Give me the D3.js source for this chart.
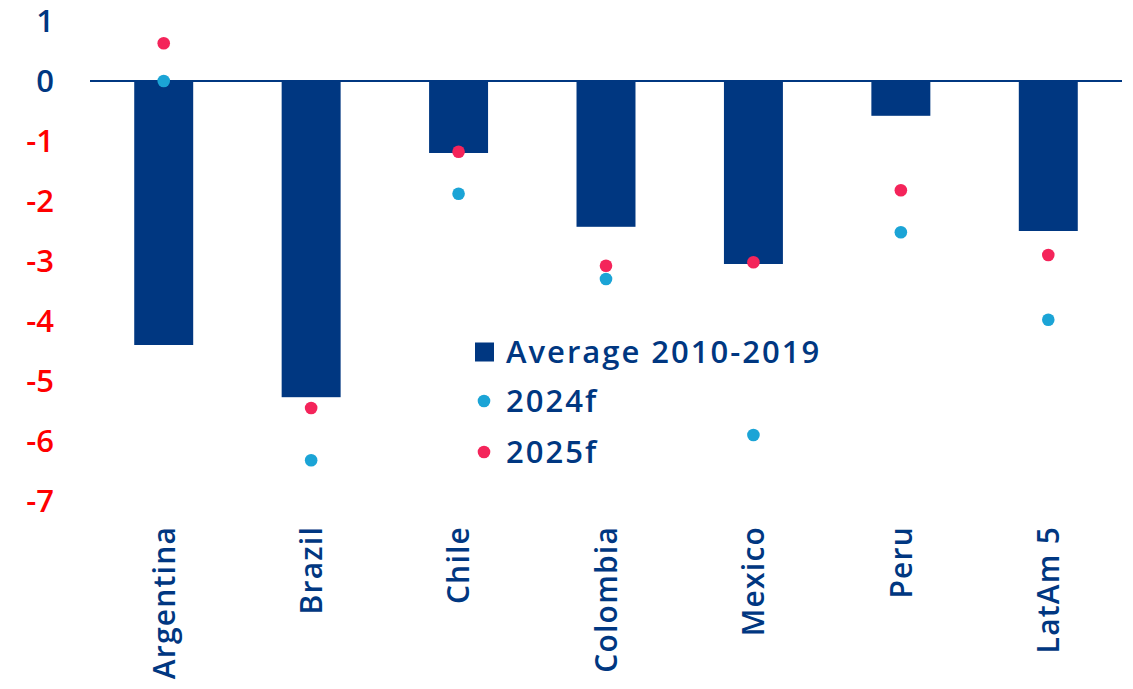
<!DOCTYPE html>
<html>
<head>
<meta charset="utf-8">
<script src="https://cdn.jsdelivr.net/npm/d3@7"></script>
<style>
  html, body { margin: 0; padding: 0; background: #fff; }
  svg text { font-family: "Open Sans", Lato, sans-serif; font-weight: 600; }
  .wide { letter-spacing: 2px; }
  .axis-label { letter-spacing: 1.2px; }
</style>
</head>
<body>
<svg id="chart" width="1133" height="689"></svg>
<script>
// Fiscal balance, % of GDP
const countries = ["Argentina", "Brazil", "Chile", "Colombia", "Mexico", "Peru", "LatAm 5"];
const avg2010_2019 = [-4.4, -5.27, -1.2, -2.43, -3.05, -0.58, -2.5];
const f2024 = [0.0, -6.32, -1.88, -3.3, -5.9, -2.52, -3.98];
const f2025 = [0.63, -5.45, -1.18, -3.08, -3.02, -1.82, -2.9];
const yTicks = [1, 0, -1, -2, -3, -4, -5, -6, -7];
const seriesNames = ["Average 2010-2019", "2024f", "2025f"];

const navy = "#003781", cyan = "#1ba4d6", pink = "#f4245a", red = "#ff0000";

const svg = d3.select("#chart");

const x = d3.scaleBand().domain(countries).range([90, 1122]).paddingInner(0.6).paddingOuter(0.3);
const y = d3.scaleLinear().domain([-7, 1]).range([501, 21]);

// y tick labels (no axis line)
svg.append("g").selectAll("text").data(yTicks).join("text")
  .attr("x", 54)
  .attr("y", d => y(d))
  .attr("dy", "0.36em")
  .attr("text-anchor", "end")
  .attr("font-size", 31)
  .attr("fill", d => d < 0 ? red : navy)
  .text(d => d);

// bars
svg.append("g").selectAll("rect").data(countries).join("rect")
  .attr("x", d => x(d))
  .attr("width", x.bandwidth())
  .attr("y", y(0))
  .attr("height", (d, i) => y(avg2010_2019[i]) - y(0))
  .attr("fill", navy);

// zero line
svg.append("line")
  .attr("x1", 90).attr("x2", 1122)
  .attr("y1", y(0)).attr("y2", y(0))
  .attr("stroke", navy).attr("stroke-width", 2);

// dots
const cx = d => x(d) + x.bandwidth() / 2;
svg.append("g").selectAll("circle").data(countries).join("circle")
  .attr("cx", cx).attr("cy", (d, i) => y(f2024[i])).attr("r", 6.3).attr("fill", cyan);
svg.append("g").selectAll("circle").data(countries).join("circle")
  .attr("cx", cx).attr("cy", (d, i) => y(f2025[i])).attr("r", 6.3).attr("fill", pink);

// category labels, rotated
svg.append("g").selectAll("text").data(countries).join("text")
  .attr("class", "axis-label")
  .attr("transform", d => `translate(${cx(d)},526) rotate(-90)`)
  .attr("dy", "0.36em")
  .attr("text-anchor", "end")
  .attr("font-size", 30)
  .attr("fill", navy)
  .text(d => d);

// legend
const lg = svg.append("g");
const rows = [352, 401, 452];
lg.append("rect").attr("x", 475).attr("y", rows[0] - 9.5).attr("width", 19).attr("height", 19).attr("fill", navy);
lg.append("circle").attr("cx", 484).attr("cy", rows[1]).attr("r", 6.3).attr("fill", cyan);
lg.append("circle").attr("cx", 484).attr("cy", rows[2]).attr("r", 6.3).attr("fill", pink);
lg.selectAll("text").data(seriesNames).join("text")
  .attr("class", "wide")
  .attr("x", 506)
  .attr("y", (d, i) => rows[i])
  .attr("dy", "0.36em")
  .attr("font-size", 31)
  .attr("fill", navy)
  .text(d => d);
</script>
</body>
</html>
